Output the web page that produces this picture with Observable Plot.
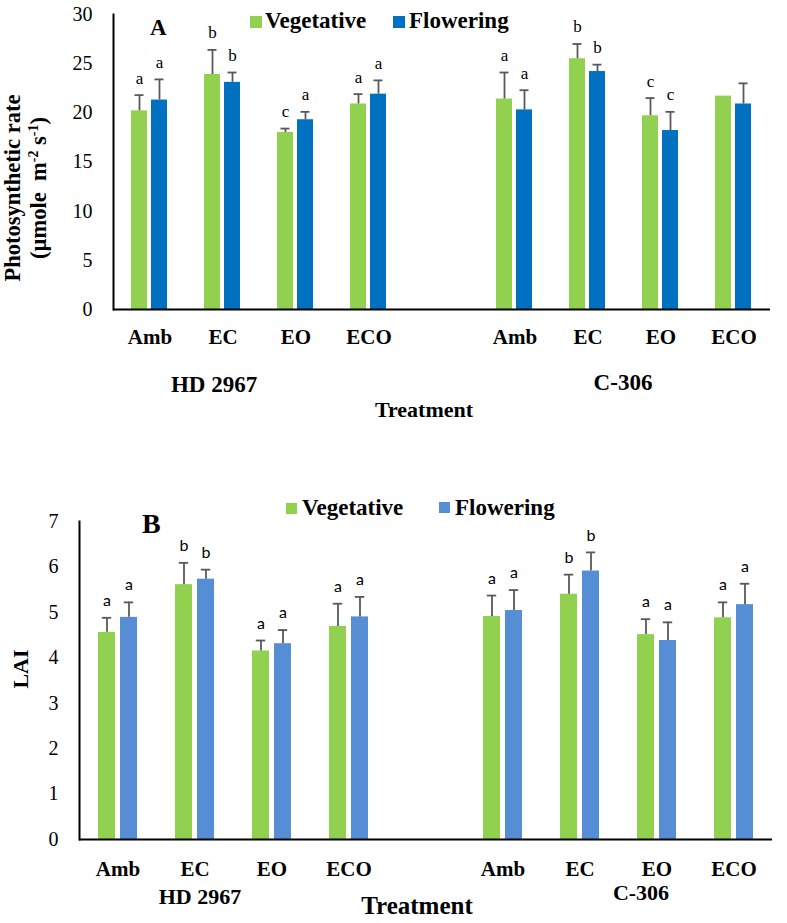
<!DOCTYPE html>
<html>
<head>
<meta charset="utf-8">
<script src="https://cdn.jsdelivr.net/npm/d3@7"></script>
<script src="https://cdn.jsdelivr.net/npm/@observablehq/plot@0.6"></script>
<style>
  html, body { margin: 0; padding: 0; background: #fff; }
  #wrap { position: relative; width: 787px; height: 923px; font-family: "Liberation Serif", serif; color: #000; }
  #wrap .abs { position: absolute; white-space: nowrap; line-height: 1; }
  #wrap .b { font-weight: bold; }
  #wrap .sq { position: absolute; }
  #plotA, #plotB { position: absolute; left: 0; }
  #plotA { top: 0; }
  #plotB { top: 470px; }
  svg [aria-label="fx-axis tick label"] { font-weight: bold; font-size: 21px; }
  svg [aria-label="frame"] { stroke-width: 2px; }
  .rot { position: absolute; transform: translate(-50%, -50%) rotate(-90deg); text-align: center; font-weight: bold; white-space: nowrap; }
  sup { font-size: 0.62em; vertical-align: 0; position: relative; top: -0.55em; }
</style>
</head>
<body>
<div id="wrap">
  <div id="plotA"></div>
  <div id="plotB"></div>
</div>
<script>
// ---------- data ----------
const genotypes = ["HD 2967", "C-306"];
const treatments = ["Amb", "EC", "EO", "ECO"];
const stages = ["Vegetative", "Flowering"];

// Panel A: photosynthetic rate (µmole m-2 s-1)
const photoVeg    = [20.2, 23.9, 18.0, 20.9, 21.4, 25.5, 19.7, 21.7];
const photoVegSE  = [1.6, 2.5, 0.4, 1.0, 2.7, 1.5, 1.8, 0];
const photoFlow   = [21.3, 23.1, 19.3, 21.9, 20.3, 24.2, 18.2, 20.9];
const photoFlowSE = [2.1, 1.0, 0.8, 1.4, 2.0, 0.7, 1.9, 2.1];
const photoVegLetters  = ["a", "b", "c", "a", "a", "b", "c", ""];
const photoFlowLetters = ["a", "b", "a", "a", "a", "b", "c", ""];
const photoTicks = [0, 5, 10, 15, 20, 25, 30];

// Panel B: LAI
const laiVeg    = [4.56, 5.61, 4.15, 4.69, 4.91, 5.40, 4.51, 4.88];
const laiVegSE  = [0.32, 0.48, 0.23, 0.50, 0.46, 0.43, 0.34, 0.34];
const laiFlow   = [4.89, 5.73, 4.31, 4.90, 5.04, 5.91, 4.38, 5.17];
const laiFlowSE = [0.33, 0.21, 0.30, 0.44, 0.45, 0.41, 0.40, 0.46];
const laiVegLetters  = ["a", "b", "a", "a", "a", "b", "a", "a"];
const laiFlowLetters = ["a", "b", "a", "a", "a", "b", "a", "a"];
const laiTicks = [0, 1, 2, 3, 4, 5, 6, 7];

const colorsA = ["#92D050", "#0070C0"];
const colorsB = ["#92D050", "#558ED5"];

// ---------- helpers ----------
const keys = genotypes.flatMap(g => treatments.map(t => g + "|" + t));
const fxDomain = [...keys.slice(0, 4), "gap", ...keys.slice(4)];

function buildRows(veg, vegSE, vegL, flow, flowSE, flowL) {
  const out = [];
  keys.forEach((k, i) => {
    out.push({key: k, stage: stages[0], value: veg[i], se: vegSE[i], letter: vegL[i]});
    out.push({key: k, stage: stages[1], value: flow[i], se: flowSE[i], letter: flowL[i]});
  });
  return out;
}

function makePlot({rows, colors, yMax, ticks, width, height, mt, mb, ml, mr, padIn, padOut, fxPad, letterFont, letterSize, capInset}) {
  const withErr = rows.filter(d => d.se > 0);
  return Plot.plot({
    width, height,
    marginTop: mt, marginBottom: mb, marginLeft: ml, marginRight: mr,
    style: {fontFamily: "Liberation Serif", fontSize: "20px", color: "#000", background: "transparent", overflow: "visible"},
    fx: {domain: fxDomain, padding: 0, label: null, tickSize: 0, tickPadding: fxPad,
         tickFormat: k => k === "gap" ? "" : k.split("|")[1]},
    x: {domain: stages, paddingInner: padIn, paddingOuter: padOut, axis: null},
    y: {domain: [0, yMax], ticks, tickSize: 0, tickPadding: 21, label: null, line: true, tickFormat: d => String(d)},
    color: {domain: stages, range: colors},
    marks: [
      // empty placeholder so the gap facet counts as non-empty (y axis drawn once, at far left)
      Plot.text(["gap"], {fx: d => d, text: () => "", frameAnchor: "middle"}),
      Plot.barY(rows, {fx: "key", x: "stage", y: "value", fill: "stage"}),
      Plot.ruleX(withErr, {fx: "key", x: "stage", y1: "value", y2: d => d.value + d.se, stroke: "#595959", strokeWidth: 1.8}),
      Plot.tickY(withErr, {fx: "key", x: "stage", y: d => d.value + d.se, stroke: "#595959", strokeWidth: 1.8, insetLeft: capInset, insetRight: capInset}),
      Plot.text(rows, {fx: "key", x: "stage", y: d => d.value + d.se, text: "letter", dy: -17,
                       fontFamily: letterFont, fontSize: letterSize, fill: "#000"}),
      Plot.ruleY([0], {stroke: "#000", strokeWidth: 2})
    ]
  });
}

const rowsA = buildRows(photoVeg, photoVegSE, photoVegLetters, photoFlow, photoFlowSE, photoFlowLetters);
const rowsB = buildRows(laiVeg, laiVegSE, laiVegLetters, laiFlow, laiFlowSE, laiFlowLetters);

document.getElementById("plotA").appendChild(makePlot({
  rows: rowsA, colors: colorsA, yMax: 30, ticks: photoTicks,
  width: 787, height: 470, mt: 14, mb: 161, ml: 109, mr: 14,
  padIn: 0.19, padOut: 0.85, fxPad: 20, letterFont: "Liberation Serif", letterSize: 17, capInset: 3.5
}));
document.getElementById("plotB").appendChild(makePlot({
  rows: rowsB, colors: colorsB, yMax: 7, ticks: laiTicks,
  width: 787, height: 453, mt: 51, mb: 84, ml: 75, mr: 12,
  padIn: 0.22, padOut: 0.84, fxPad: 22, letterFont: "Lato", letterSize: 16, capInset: 3.8
}));

// ---------- text & legends (HTML) ----------
const wrap = document.getElementById("wrap");
function addText(txt, left, top, size, opts = {}) {
  const d = document.createElement("div");
  d.className = "abs" + (opts.bold === false ? "" : " b");
  d.textContent = txt;
  d.style.left = left + "px";
  d.style.top = top + "px";
  d.style.fontSize = size + "px";
  if (opts.center) d.style.transform = "translateX(-50%)";
  wrap.appendChild(d);
}
function addSquare(left, top, size, color) {
  const s = document.createElement("div");
  s.className = "sq";
  Object.assign(s.style, {left: left + "px", top: top + "px", width: size + "px", height: size + "px", background: color});
  wrap.appendChild(s);
}

// Panel A
addText("A", 150, 15.5, 23);
addSquare(250, 16, 12, colorsA[0]);
addText(stages[0], 265, 8.8, 23);
addSquare(393, 16, 12, colorsA[1]);
addText(stages[1], 409, 8.8, 23);
addText(genotypes[0], 214, 373, 23, {center: true});
addText(genotypes[1], 623, 371, 23, {center: true});
addText("Treatment", 424, 398.5, 22, {center: true});

const yTitleA = document.createElement("div");
yTitleA.className = "rot";
yTitleA.style.left = "27px";
yTitleA.style.top = "188px";
yTitleA.style.fontSize = "22.5px";
yTitleA.style.lineHeight = "26px";
yTitleA.innerHTML = "Photosynthetic rate<br>(µmole&nbsp; m<sup>-2</sup> s<sup>-1</sup>)";
wrap.appendChild(yTitleA);

// Panel B
addText("B", 142, 509.5, 28);
addSquare(286, 503, 11, colorsB[0]);
addText(stages[0], 302, 495.8, 23);
addSquare(439, 502, 11, colorsB[1]);
addText(stages[1], 455, 495.8, 23);
addText(genotypes[0], 200, 885.5, 22, {center: true});
addText(genotypes[1], 641, 881.5, 22, {center: true});
addText("Treatment", 417, 893, 25, {center: true});

const yTitleB = document.createElement("div");
yTitleB.className = "rot";
yTitleB.style.left = "21px";
yTitleB.style.top = "669px";
yTitleB.style.fontSize = "22px";
yTitleB.textContent = "LAI";
wrap.appendChild(yTitleB);
</script>
</body>
</html>
